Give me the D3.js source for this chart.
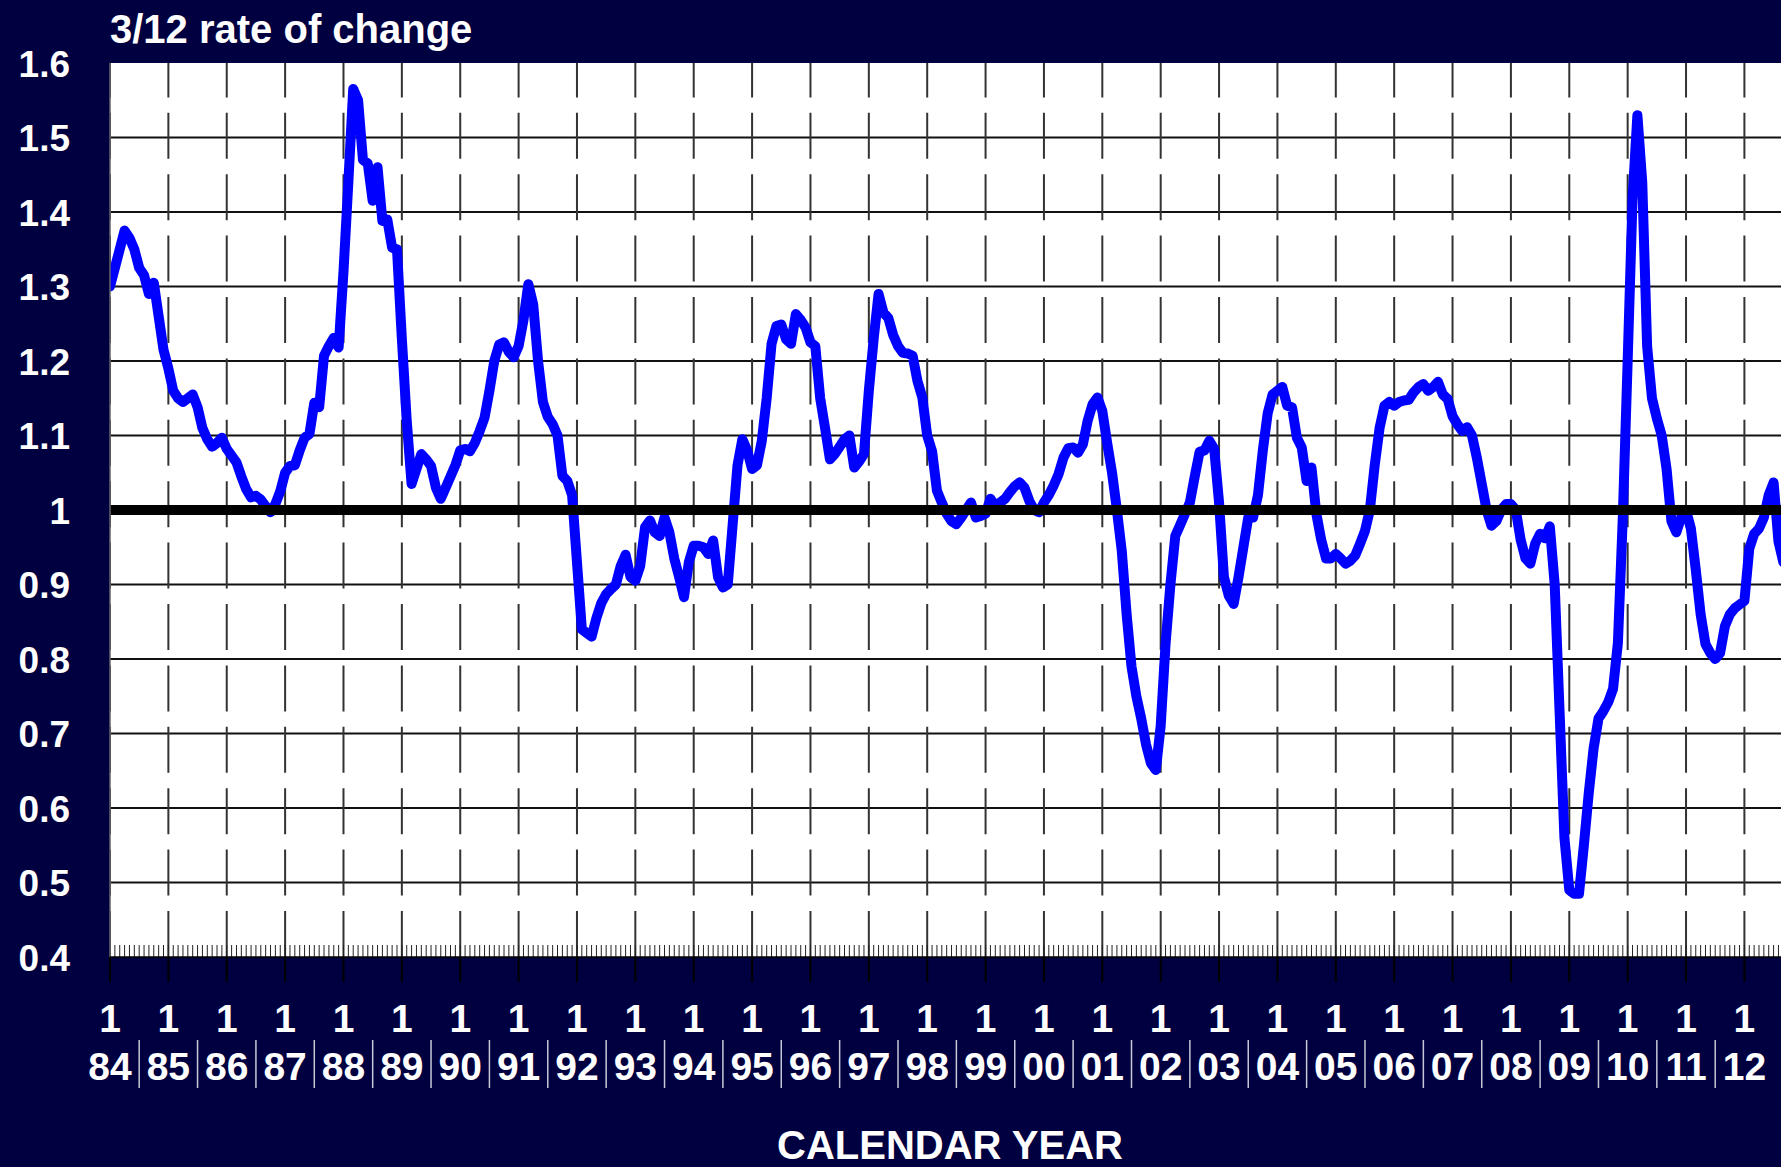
<!DOCTYPE html>
<html><head><meta charset="utf-8">
<script src="https://cdn.jsdelivr.net/npm/d3@7"></script>
<style>html,body{margin:0;padding:0;background:#000040;overflow:hidden}</style>
</head><body>
<svg id="chart" width="1781" height="1167"></svg>
<script>
// ---------- data ----------
const chartTitle = "3/12 rate of change";
const xAxisTitle = "CALENDAR YEAR";
const startYear = 1984;
const yearLabels = ["84","85","86","87","88","89","90","91","92","93","94","95","96","97","98","99","00","01","02","03","04","05","06","07","08","09","10","11","12"];
const yTicks = [0.4,0.5,0.6,0.7,0.8,0.9,1.0,1.1,1.2,1.3,1.4,1.5,1.6];
const refLevel = 1.0;
// monthly values starting January 1984
const values = [
 1.30,1.325,1.35,1.375,1.365,1.35,1.325,1.315,1.29,1.305,1.26,1.215,      // 1984
 1.19,1.16,1.15,1.145,1.15,1.155,1.138,1.11,1.095,1.085,1.09,1.097,       // 1985
 1.082,1.073,1.064,1.045,1.028,1.017,1.019,1.014,1.005,0.997,1.008,1.025, // 1986
 1.05,1.059,1.06,1.08,1.097,1.102,1.144,1.138,1.207,1.22,1.231,1.218,     // 1987
 1.32,1.44,1.565,1.55,1.47,1.465,1.415,1.46,1.388,1.39,1.352,1.35,        // 1988
 1.23,1.12,1.035,1.055,1.075,1.068,1.059,1.03,1.015,1.03,1.045,1.06,      // 1989
 1.08,1.082,1.079,1.09,1.106,1.124,1.16,1.20,1.222,1.225,1.212,1.205,     // 1990
 1.22,1.255,1.303,1.276,1.20,1.145,1.125,1.115,1.10,1.046,1.039,1.02,     // 1991
 0.93,0.84,0.835,0.83,0.855,0.875,0.887,0.894,0.90,0.925,0.94,0.91,       // 1992
 0.905,0.925,0.977,0.986,0.97,0.965,0.99,0.97,0.935,0.91,0.883,0.93,      // 1993
 0.952,0.952,0.95,0.941,0.959,0.91,0.896,0.90,0.98,1.06,1.095,1.08,       // 1994
 1.055,1.06,1.093,1.15,1.223,1.247,1.249,1.229,1.223,1.263,1.255,1.245,   // 1995
 1.225,1.22,1.15,1.11,1.068,1.075,1.085,1.095,1.10,1.057,1.065,1.075,     // 1996
 1.16,1.23,1.29,1.265,1.258,1.235,1.22,1.211,1.21,1.207,1.173,1.151,      // 1997
 1.10,1.079,1.026,1.01,0.995,0.985,0.981,0.99,1.0,1.01,0.99,0.992,        // 1998
 0.995,1.015,1.005,1.01,1.015,1.024,1.032,1.037,1.03,1.012,1.0,0.997,     // 1999
 1.01,1.02,1.033,1.048,1.07,1.083,1.084,1.077,1.088,1.12,1.142,1.151,     // 2000
 1.133,1.09,1.05,1.0,0.945,0.86,0.79,0.75,0.72,0.685,0.66,0.651,          // 2001
 0.71,0.82,0.90,0.965,0.98,0.995,1.01,1.045,1.078,1.08,1.093,1.082,       // 2002
 1.01,0.91,0.885,0.874,0.91,0.95,0.99,0.99,1.02,1.08,1.13,1.155,          // 2003
 1.16,1.165,1.14,1.138,1.097,1.084,1.039,1.057,0.995,0.96,0.935,0.935,    // 2004
 0.941,0.935,0.928,0.932,0.939,0.955,0.972,1.0,1.06,1.11,1.14,1.145,      // 2005
 1.14,1.145,1.147,1.148,1.158,1.165,1.169,1.16,1.165,1.172,1.155,1.149,   // 2006
 1.126,1.115,1.106,1.111,1.10,1.07,1.035,1.0,0.979,0.985,1.0,1.008,       // 2007
 1.008,1.0,0.96,0.935,0.928,0.955,0.968,0.962,0.978,0.90,0.73,0.56,       // 2008
 0.49,0.485,0.485,0.55,0.62,0.68,0.72,0.73,0.742,0.76,0.822,0.99,         // 2009
 1.20,1.417,1.53,1.44,1.22,1.15,1.123,1.10,1.055,0.985,0.97,0.99,         // 2010
 1.0,0.975,0.92,0.86,0.82,0.808,0.80,0.808,0.844,0.86,0.868,0.873,        // 2011
 0.878,0.948,0.968,0.975,0.99,1.02,1.037,0.958,0.93                       // 2012
];

// ---------- layout ----------
const W = 1781, H = 1167;
const plotL = 110, plotR = 1781, plotT = 63, plotB = 957;
const FONT = "'Liberation Sans', Arial, Helvetica, sans-serif";

const svg = d3.select("#chart");
svg.append("rect").attr("width", W).attr("height", H).attr("fill", "#000040");

const x = d3.scaleLinear().domain([0, 12 * (yearLabels.length - 1)]).range([plotL, 1744.4]);
const y = d3.scaleLinear().domain([0.4, 1.6]).range([plotB, plotT]);

svg.append("defs").append("clipPath").attr("id", "clip")
  .append("rect").attr("x", plotL).attr("y", plotT).attr("width", plotR - plotL).attr("height", plotB - plotT);

// plot background
svg.append("rect").attr("x", plotL).attr("y", plotT).attr("width", plotR - plotL).attr("height", plotB - plotT).attr("fill", "#ffffff");

const g = svg.append("g").attr("clip-path", "url(#clip)");

// horizontal gridlines
g.selectAll("line.hgrid").data(yTicks.filter(v => v > 0.4 && v < 1.6)).join("line")
  .attr("class", "hgrid")
  .attr("x1", plotL).attr("x2", plotR)
  .attr("y1", d => y(d)).attr("y2", d => y(d))
  .attr("stroke", "#111").attr("stroke-width", 2);

// vertical dashed gridlines at each January (drawn from bottom upward)
const yearIdx = d3.range(yearLabels.length).map(i => i * 12);
g.selectAll("line.vgrid").data(yearIdx).join("line")
  .attr("class", "vgrid")
  .attr("x1", d => x(d)).attr("x2", d => x(d))
  .attr("y1", plotB).attr("y2", plotT)
  .attr("stroke", "#333").attr("stroke-width", 2)
  .attr("stroke-dasharray", "46 15.4");

// monthly minor ticks along the bottom
g.selectAll("line.mtick").data(d3.range(0, values.length + 2)).join("line")
  .attr("class", "mtick")
  .attr("x1", d => x(d)).attr("x2", d => x(d))
  .attr("y1", plotB - 12).attr("y2", plotB)
  .attr("stroke", "#222").attr("stroke-width", 1);

// left border and bottom border
svg.append("line").attr("x1", plotL).attr("x2", plotL).attr("y1", plotT).attr("y2", plotB)
  .attr("stroke", "#666").attr("stroke-width", 1.5);
svg.append("line").attr("x1", plotL).attr("x2", plotR).attr("y1", plotB).attr("y2", plotB)
  .attr("stroke", "#000").attr("stroke-width", 1.5);

// year ticks below the plot
svg.selectAll("line.ytick").data(yearIdx).join("line")
  .attr("class", "ytick")
  .attr("x1", d => x(d)).attr("x2", d => x(d))
  .attr("y1", plotB).attr("y2", plotB + 25)
  .attr("stroke", "#000").attr("stroke-width", 2);

// data line
const line = d3.line().x((d, i) => x(i)).y(d => y(d));
g.append("path").datum(values)
  .attr("d", line)
  .attr("fill", "none").attr("stroke", "#0000ff").attr("stroke-width", 10)
  .attr("stroke-linejoin", "round").attr("stroke-linecap", "round");

// reference line at 1.0
g.append("line").attr("x1", plotL).attr("x2", plotR)
  .attr("y1", y(refLevel)).attr("y2", y(refLevel))
  .attr("stroke", "#000").attr("stroke-width", 10);

// y axis labels
const yAxis = d3.axisLeft(y).tickValues(yTicks)
  .tickFormat(d => (Math.abs(d - 1) < 1e-9 ? "1" : d3.format(".1f")(d)))
  .tickSize(0).tickPadding(40);
const ya = svg.append("g").attr("transform", `translate(${plotL},0)`).call(yAxis);
ya.select(".domain").remove();
ya.selectAll("text").attr("fill", "#fff").attr("font-family", FONT)
  .attr("font-weight", "bold").attr("font-size", 37).attr("dy", "0.36em");

// x labels: "1" (January) above two-digit year
svg.selectAll("text.mon").data(yearIdx).join("text")
  .attr("class", "mon")
  .attr("x", d => x(d)).attr("y", 1031.5)
  .attr("text-anchor", "middle").attr("fill", "#fff")
  .attr("font-family", FONT).attr("font-weight", "bold").attr("font-size", 39)
  .text("1");
svg.selectAll("text.yr").data(yearLabels).join("text")
  .attr("class", "yr")
  .attr("x", (d, i) => x(i * 12)).attr("y", 1079.5)
  .attr("text-anchor", "middle").attr("fill", "#fff")
  .attr("font-family", FONT).attr("font-weight", "bold").attr("font-size", 39)
  .text(d => d);
// separators between year labels (mid-year)
svg.selectAll("line.sep").data(yearIdx.slice(0, -1)).join("line")
  .attr("class", "sep")
  .attr("x1", d => x(d + 6)).attr("x2", d => x(d + 6))
  .attr("y1", 1040).attr("y2", 1088)
  .attr("stroke", "#c8c8d8").attr("stroke-width", 1.5);

// titles
svg.append("text").attr("x", plotL).attr("y", 43)
  .attr("fill", "#fff").attr("font-family", FONT).attr("font-weight", "bold").attr("font-size", 40)
  .text(chartTitle);
svg.append("text").attr("x", 950).attr("y", 1159)
  .attr("text-anchor", "middle")
  .attr("fill", "#fff").attr("font-family", FONT).attr("font-weight", "bold").attr("font-size", 40)
  .text(xAxisTitle);
</script>
</body></html>
